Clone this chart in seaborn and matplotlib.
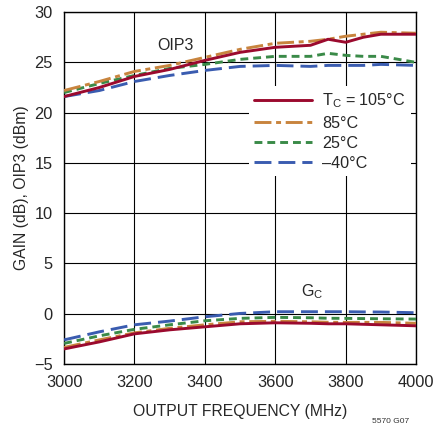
import matplotlib
matplotlib.use("Agg")
import matplotlib.pyplot as plt
from matplotlib.lines import Line2D
from matplotlib import font_manager
import seaborn as sns
import pandas as pd

# data
freq = [3000, 3100, 3200, 3300, 3400, 3500, 3600, 3700, 3750, 3800, 3850, 3900, 4000]

oip3_105 = [21.6, 22.5, 23.6, 24.3, 25.2, 26.0, 26.5, 26.7, 27.3, 27.0, 27.5, 27.8, 27.8]
oip3_85 = [22.2, 23.1, 24.1, 24.7, 25.5, 26.3, 26.9, 27.1, 27.3, 27.6, 27.8, 28.0, 27.9]
oip3_25 = [22.0, 22.9, 23.7, 24.4, 24.8, 25.3, 25.6, 25.6, 25.9, 25.7, 25.6, 25.6, 25.0]
oip3_m40 = [21.6, 22.2, 23.1, 23.7, 24.2, 24.6, 24.7, 24.6, 24.7, 24.7, 24.7, 24.8, 24.7]

gain_105 = [-3.5, -2.8, -2.0, -1.6, -1.3, -1.0, -0.9, -0.95, -1.0, -1.0, -1.05, -1.1, -1.2]
gain_85 = [-3.35, -2.6, -1.9, -1.45, -1.1, -0.8, -0.75, -0.8, -0.85, -0.86, -0.86, -0.86, -0.95]
gain_25 = [-2.95, -2.2, -1.55, -1.1, -0.7, -0.46, -0.36, -0.4, -0.45, -0.46, -0.48, -0.5, -0.53]
gain_m40 = [-2.6, -1.8, -1.1, -0.73, -0.3, 0.03, 0.2, 0.2, 0.2, 0.2, 0.18, 0.17, 0.1]

temps = ["105", "85", "25", "-40"]
legend_labels = ["T$_\\mathregular{C}$ = 105°C", "85°C", "25°C", "\u201340°C"]
colors = {"105": "#9b0a2e", "85": "#c8843e", "25": "#3a8a48", "-40": "#3a5cb0"}
dashes = {"105": None, "85": (5.8, 1.6, 1.7, 1.6), "25": (2.7, 1.7), "-40": (5.8, 2.4)}

oip3 = {"105": oip3_105, "85": oip3_85, "25": oip3_25, "-40": oip3_m40}
gain = {"105": gain_105, "85": gain_85, "25": gain_25, "-40": gain_m40}

sns.set_theme(style="white")
installed = {f.name for f in font_manager.fontManager.ttflist}
narrow = "Liberation Sans Narrow" if "Liberation Sans Narrow" in installed else "Liberation Sans"
plt.rcParams["font.family"] = [narrow, "Liberation Sans", "DejaVu Sans"]
plt.rcParams["axes.unicode_minus"] = True

fig = plt.figure(figsize=(4.33, 4.25), dpi=100)
ax = fig.add_axes([0.148, 0.1435, 0.813, 0.828])

LW = 2.1
# draw in reverse so 105°C ends on top
for t in reversed(temps):
    for curve in (oip3, gain):
        df = pd.DataFrame({"f": freq, "v": curve[t]})
        sns.lineplot(data=df, x="f", y="v", ax=ax, color=colors[t], lw=LW,
                     legend=False, zorder=3)
        if dashes[t] is not None:
            ax.lines[-1].set_dashes(dashes[t])

handles = []
for t in temps:
    h = Line2D([], [], color=colors[t], lw=LW)
    if dashes[t] is not None:
        h.set_dashes(dashes[t])
    handles.append(h)

ax.set_xlim(3000, 4000)
ax.set_ylim(-5, 30)
ax.set_xticks(range(3000, 4001, 200))
ax.set_yticks(range(-5, 31, 5))
ax.grid(True, color="black", lw=0.8)
for s in ax.spines.values():
    s.set_color("black")
    s.set_linewidth(1.0)
ax.tick_params(axis="x", labelsize=11.8, length=0, pad=8)
ax.tick_params(axis="y", labelsize=11.8, length=0, pad=8)
ax.set_xlabel("OUTPUT FREQUENCY (MHz)", fontsize=11.3, labelpad=10)
ax.set_ylabel("GAIN (dB), OIP3 (dBm)", fontsize=11.3, labelpad=4)

ax.text(3315, 26.7, "OIP3", fontsize=11.5, ha="center", va="center")
ax.text(3705, 2.15, "G$_\\mathregular{C}$", fontsize=11.5, ha="center", va="center")

leg = ax.legend(handles, legend_labels, loc="upper right", bbox_to_anchor=(0.985, 0.79),
                fontsize=11.6, frameon=True, framealpha=1, edgecolor="none",
                fancybox=False, handlelength=3.6, handletextpad=0.6,
                labelspacing=0.32, borderpad=0.35, borderaxespad=0)
leg.get_frame().set_facecolor("white")
leg.set_zorder(5)

fig.text(0.858, 0.008, "5570 G07", fontsize=6, ha="left", va="center", color="#333333")

fig.savefig("out.png", dpi=100)
